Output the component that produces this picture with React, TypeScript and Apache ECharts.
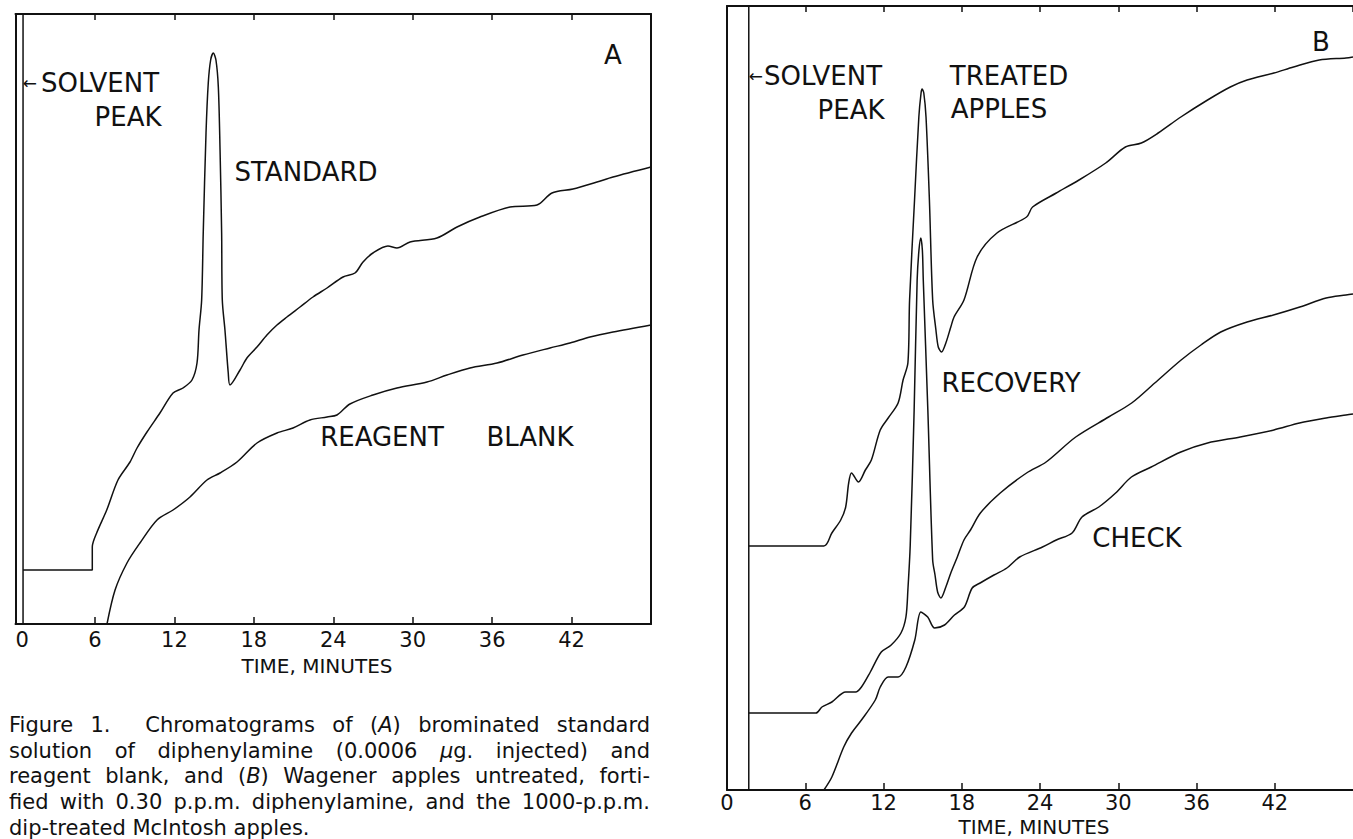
import React, { useEffect, useRef } from "react";
import * as echarts from "echarts";

const FONT = "DejaVu Sans";
const INK = "#111111";

// x axis (time, minutes)
const X_TICKS = [0, 6, 12, 18, 24, 30, 36, 42];
const X_MAX = 48;
const X_STEP = 6;
// detector response, arbitrary units (full scale of each panel)
const Y_MAX_A = 61;
const Y_MAX_B = 78.4;

// ---------- Panel A ----------
const SOLVENT_A: number[][] = [[0.57, 0], [0.57, 61]];
const STANDARD_A: number[][] = [
  [0.57, 5.4], [5.8, 5.4], [5.8, 7.7], [6.13, 9.1], [6.89, 11.4], [7.74, 14.4], [8.65, 16.2],
  [9.18, 17.6], [9.93, 19.2], [10.91, 21.1], [11.9, 23.1], [12.65, 23.6], [13.33, 24.4],
  [13.71, 26.1], [13.86, 29.4], [14.06, 32.4], [14.18, 39.1], [14.39, 49.1], [14.56, 54.1],
  [14.74, 56.4], [14.94, 57.1], [15.14, 56.4], [15.32, 53.7], [15.45, 47.4], [15.57, 39.1],
  [15.62, 32.4], [15.82, 29.4], [16.07, 25.1], [16.2, 23.9], [16.96, 25.4], [17.48, 26.6],
  [18.24, 27.7], [18.99, 28.9], [19.75, 29.9], [20.5, 30.7], [21.49, 31.7], [22.47, 32.7],
  [23.53, 33.6], [24.74, 34.7], [25.64, 35.1], [26.25, 36.2], [27.0, 37.1], [28.13, 37.8],
  [28.81, 37.6], [29.8, 38.2], [31.83, 38.6], [33.35, 39.7], [35.08, 40.7], [37.35, 41.7],
  [39.39, 41.9], [40.52, 43.1], [42.11, 43.5], [43.92, 44.2], [45.13, 44.7], [48.0, 45.7],
];
const BLANK_A: number[][] = [
  [6.91, 0], [7.52, 3.4], [8.42, 6.1], [9.4, 8.1], [10.69, 10.4], [11.9, 11.4], [13.18, 12.7],
  [14.46, 14.4], [15.45, 15.1], [16.73, 16.2], [18.24, 18.1], [19.75, 19.1], [20.96, 19.6],
  [22.24, 20.4], [23.53, 20.7], [24.28, 20.9], [25.26, 22.0], [27.0, 22.9], [28.81, 23.6],
  [31.08, 24.2], [32.59, 24.9], [34.33, 25.6], [36.37, 26.1], [38.33, 26.9], [40.37, 27.6],
  [41.88, 28.1], [43.39, 28.7], [45.13, 29.2], [48.0, 29.9],
];

// ---------- Panel B ----------
const SOLVENT_B: number[][] = [[1.67, 0], [1.67, 78.4]];
const TREATED_B: number[][] = [
  [1.67, 24.4], [7.43, 24.4], [8.04, 25.7], [8.72, 27.0], [9.1, 28.3], [9.33, 30.7], [9.55, 31.7],
  [10.08, 30.8], [10.61, 32.0], [11.07, 33.0], [11.75, 36.0], [12.36, 37.2], [13.12, 38.7],
  [13.5, 41.0], [13.87, 42.7], [14.0, 49.0], [14.38, 59.0], [14.71, 67.3], [14.88, 69.7],
  [14.96, 70.1], [15.09, 69.7], [15.26, 67.3], [15.52, 59.0], [15.77, 49.0], [16.02, 46.0],
  [16.2, 44.3], [16.45, 43.8], [16.78, 44.7], [17.16, 46.3], [17.41, 47.3], [18.17, 49.0],
  [19.18, 53.3], [20.7, 55.7], [22.97, 57.3], [23.43, 58.3], [25.25, 59.7], [26.99, 61.0],
  [29.04, 62.7], [30.55, 64.3], [31.77, 64.7], [33.06, 65.7], [34.8, 67.3], [36.85, 69.0],
  [38.59, 70.3], [39.88, 71.0], [41.93, 71.7], [43.44, 72.3], [45.41, 73.0], [47.46, 73.2],
  [48.0, 73.3],
];
const RECOVERY_B: number[][] = [
  [1.67, 7.7], [6.82, 7.7], [7.28, 8.3], [8.04, 8.8], [9.1, 9.8], [9.86, 9.8], [10.31, 10.3],
  [10.99, 11.8], [11.83, 13.8], [12.59, 14.5], [13.34, 15.7], [13.72, 17.3], [13.87, 20.0],
  [14.05, 24.5], [14.35, 38.0], [14.58, 51.0], [14.72, 54.0], [14.86, 55.2], [14.98, 54.0],
  [15.05, 51.0], [15.4, 38.0], [15.77, 23.0], [15.95, 21.5], [16.15, 19.8], [16.4, 19.2],
  [16.78, 20.3], [17.16, 21.7], [17.66, 23.3], [18.17, 25.0], [18.67, 26.0], [19.43, 27.7],
  [20.95, 29.7], [22.97, 31.7], [24.47, 32.8], [26.74, 35.3], [29.26, 37.3], [31.03, 38.7],
  [32.8, 40.7], [34.82, 43.0], [36.34, 44.5], [37.86, 45.8], [39.88, 46.8], [41.9, 47.5],
  [43.92, 48.3], [45.94, 49.2], [47.46, 49.5], [48.0, 49.6],
];
const CHECK_B: number[][] = [
  [7.43, 0], [8.04, 1.3], [8.95, 4.3], [9.55, 5.7], [10.31, 7.0], [11.37, 9.0], [11.75, 10.3],
  [12.36, 11.3], [13.12, 11.3], [13.72, 12.3], [14.4, 15.0], [14.86, 17.8], [15.39, 17.3],
  [15.92, 16.2], [16.68, 16.5], [17.44, 17.5], [18.2, 18.3], [18.8, 20.2], [19.41, 20.7],
  [20.47, 21.5], [21.46, 22.2], [22.44, 23.3], [24.19, 24.3], [25.25, 25.0], [26.46, 25.7],
  [27.22, 27.3], [28.51, 28.3], [29.8, 29.7], [31.01, 31.3], [32.53, 32.3], [34.8, 33.8],
  [36.85, 34.7], [39.35, 35.3], [41.93, 36.0], [43.9, 36.7], [45.94, 37.2], [47.46, 37.5],
  [48.0, 37.6],
];

// caption lines; _x_ marks italic
const CAPTION: string[] = [
  "Figure 1.  Chromatograms of (_A_) brominated standard",
  "solution of diphenylamine (0.0006 _\u03bc_g. injected) and",
  "reagent blank, and (_B_) Wagener apples untreated, forti-",
  "fied with 0.30 p.p.m. diphenylamine, and the 1000-p.p.m.",
  "dip-treated McIntosh apples.",
];

const X_TITLE = "TIME, MINUTES";

export default function App() {
  const ref = useRef<HTMLDivElement | null>(null);

  useEffect(() => {
    if (!ref.current) return;
    const chart = echarts.init(ref.current, undefined, { renderer: "svg" });

    const labelSize = 26;
    const txt = (text: string, x: number, y: number, size = labelSize, align = "center") => ({
      type: "text",
      x,
      y,
      silent: true,
      style: { text, fontSize: size, fontFamily: FONT, fill: INK, align, verticalAlign: "middle" },
    });

    const elements: any[] = [
      // panel A
      txt("\u2190", 37, 83, 17, "right"),
      txt("SOLVENT", 100, 83),
      txt("PEAK", 128, 117),
      txt("STANDARD", 306, 172),
      txt("REAGENT", 382, 437),
      txt("BLANK", 530, 437),
      txt("A", 613, 55),
      txt(X_TITLE, 317, 666, 20),
      // panel B
      txt("\u2190", 763, 76, 17, "right"),
      txt("SOLVENT", 823, 76),
      txt("PEAK", 851, 110),
      txt("TREATED", 1009, 76),
      txt("APPLES", 999, 109),
      txt("B", 1321, 42),
      txt("RECOVERY", 1011, 383),
      txt("CHECK", 1137, 538),
      txt(X_TITLE, 1034, 827, 20),
    ];

    // caption, justified like the printed figure legend
    const canvas = document.createElement("canvas");
    const ctx = canvas.getContext("2d")!;
    const capSize = 21;
    const measure = (s: string, italic: boolean) => {
      ctx.font = `${italic ? "italic " : ""}${capSize}px "${FONT}"`;
      return ctx.measureText(s).width;
    };
    const toRich = (segs: string[]) => segs.map((s, i) => (i % 2 ? (s ? `{i|${s}}` : "") : s)).join("");
    const capLeft = 9;
    const capRight = 650;
    const capTop = 725;
    const capStep = 25.7;
    const rich = { i: { fontStyle: "italic", fontSize: capSize, fontFamily: FONT, fill: INK } };
    CAPTION.forEach((line, li) => {
      const y = capTop + li * capStep;
      const justify = li < CAPTION.length - 1;
      if (!justify) {
        elements.push({
          type: "text", x: capLeft, y, silent: true,
          style: { text: toRich(line.split("_")), rich, fontSize: capSize, fontFamily: FONT, fill: INK, align: "left", verticalAlign: "middle" },
        });
        return;
      }
      const tokens = line.split(" ");
      const parts = tokens.map((t) => t.split("_"));
      const widths = parts.map((p) => p.reduce((s, seg, i) => s + (seg ? measure(seg, i % 2 === 1) : 0), 0));
      const total = widths.reduce((a, b) => a + b, 0);
      const gap = (capRight - capLeft - total) / (tokens.length - 1);
      let x = capLeft;
      tokens.forEach((tok, ti) => {
        if (tok) {
          elements.push({
            type: "text", x, y, silent: true,
            style: { text: toRich(parts[ti]), rich, fontSize: capSize, fontFamily: FONT, fill: INK, align: "left", verticalAlign: "middle" },
          });
        }
        x += widths[ti] + gap;
      });
    });

    const axisLineStyle = { color: INK, width: 2 };
    const tickFmt = (v: number) => (X_TICKS.includes(v) ? String(v) : "");
    const xBottom = (gridIndex: number, margin: number, alignMin: string) => ({
      type: "value", gridIndex, min: 0, max: X_MAX, interval: X_STEP, position: "bottom",
      axisLine: { show: true, onZero: false, lineStyle: axisLineStyle },
      axisTick: { show: true, inside: true, length: 7, lineStyle: { color: INK, width: 1.5 } },
      axisLabel: {
        show: true, margin, fontSize: 21, fontFamily: FONT, color: INK, formatter: tickFmt,
        showMaxLabel: false, alignMinLabel: alignMin,
      },
      splitLine: { show: false },
    });
    const xTop = (gridIndex: number) => ({
      type: "value", gridIndex, min: 0, max: X_MAX, interval: X_STEP, position: "top",
      axisLine: { show: true, onZero: false, lineStyle: axisLineStyle },
      axisTick: { show: true, inside: true, length: 6, lineStyle: { color: INK, width: 1.5 } },
      axisLabel: { show: false },
      splitLine: { show: false },
    });
    const yAx = (gridIndex: number, max: number, position: string) => ({
      type: "value", gridIndex, min: 0, max, position,
      axisLine: { show: true, onZero: false, lineStyle: axisLineStyle },
      axisTick: { show: false }, axisLabel: { show: false }, splitLine: { show: false },
    });
    const trace = (name: string, data: number[][], xi: number, yi: number, smooth: number | boolean) => ({
      type: "line", name, data, xAxisIndex: xi, yAxisIndex: yi, showSymbol: false, symbol: "none",
      silent: true, smooth, lineStyle: { color: INK, width: 1.5 }, clip: true,
    });

    chart.setOption({
      animation: false,
      backgroundColor: "#ffffff",
      grid: [
        { left: 15.5, top: 14, width: 635.5, height: 610, containLabel: false },
        { left: 727, top: 6, width: 633, height: 784, containLabel: false },
      ],
      xAxis: [xBottom(0, 5, "left"), xTop(0), xBottom(1, 2, "center"), xTop(1)],
      yAxis: [yAx(0, Y_MAX_A, "left"), yAx(0, Y_MAX_A, "right"), yAx(1, Y_MAX_B, "left")],
      series: [
        trace("Solvent peak A", SOLVENT_A, 0, 0, false),
        trace("Standard", STANDARD_A, 0, 0, 0.3),
        trace("Reagent blank", BLANK_A, 0, 0, 0.3),
        trace("Solvent peak B", SOLVENT_B, 2, 2, false),
        trace("Treated apples", TREATED_B, 2, 2, 0.3),
        trace("Recovery", RECOVERY_B, 2, 2, 0.3),
        trace("Check", CHECK_B, 2, 2, 0.3),
      ],
      graphic: { elements },
    });

    return () => chart.dispose();
  }, []);

  return (
    <div
      ref={ref}
      style={{ position: "absolute", left: 0, top: 0, width: 1353, height: 839, background: "#fff" }}
    />
  );
}
